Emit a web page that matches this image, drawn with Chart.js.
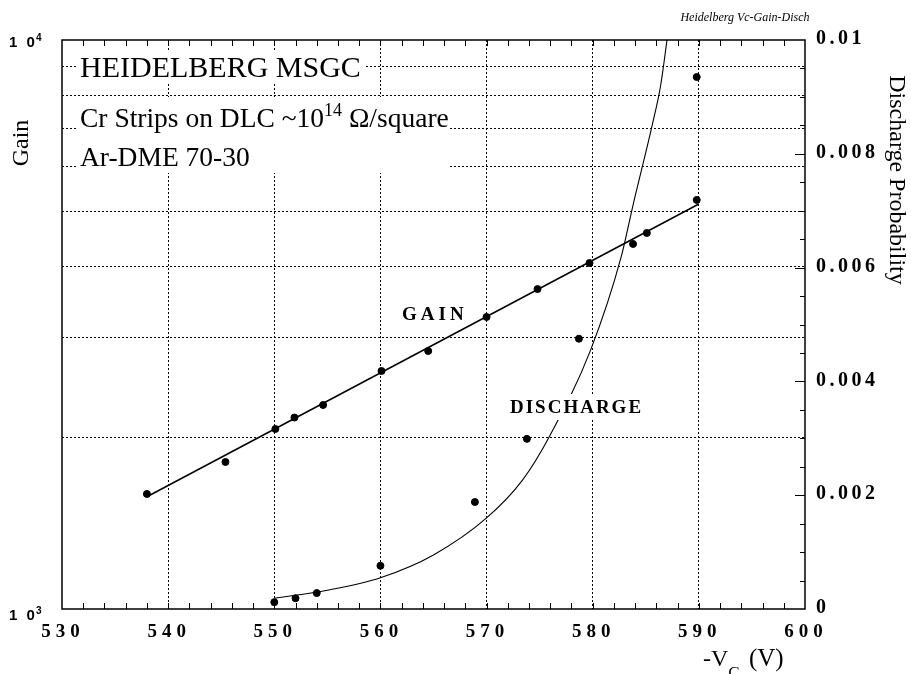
<!DOCTYPE html>
<html>
<head>
<meta charset="utf-8">
<script src="https://cdn.jsdelivr.net/npm/chart.js@4.4.1/dist/chart.umd.min.js"></script>
<style>
  html, body { margin: 0; padding: 0; background: #fff; }
  #wrap { width: 911px; height: 674px; position: relative; }
</style>
</head>
<body>
<div id="wrap"><canvas id="chart" width="911" height="674"></canvas></div>
<script>
// gain measurements (left, log axis)
const gainVoltage = [538.0, 545.4, 550.1, 551.9, 554.6, 560.1, 564.5, 570.0, 574.8, 579.7, 583.8, 585.1, 589.8];
const gainValues = [1593, 1813, 2072, 2170, 2283, 2620, 2840, 3260, 3650, 4056, 4381, 4580, 5235];
// straight fit through the gain points
const gainFitVoltage = [538, 590];
const gainFitValues = [1575, 5150];

// discharge probability (right axis)
const dischargeVoltage = [550.0, 552.0, 554.0, 560.0, 568.9, 573.8, 578.7, 589.8];
const dischargeValues = [0.00012, 0.00019, 0.00028, 0.00076, 0.00188, 0.00299, 0.00475, 0.00935];
// curve
const dischargeFitVoltage = [550, 555, 560, 565, 570, 573.4, 576, 579.8, 582.7, 583.8, 585.6, 586.4, 587.0];
const dischargeFitValues = [0.00019, 0.00033, 0.00055, 0.00095, 0.0016, 0.00227, 0.00306, 0.00455, 0.0062, 0.0071, 0.0085, 0.0092, 0.0100];

// tick labels
const xTickLabels = [530, 540, 550, 560, 570, 580, 590, 600];
const gainTickLabels = [1000, 10000];
const probTickLabels = [0, 0.002, 0.004, 0.006, 0.008, 0.01];

const toPoints = (xs, ys) => xs.map((x, i) => ({ x: x, y: ys[i] }));

function spaced(ctx, text, x, y, spacing) {
  ctx.letterSpacing = spacing + 'px';
  ctx.fillText(text, x, y);
  ctx.letterSpacing = '0px';
}

// only whole thousands get a grid line on the gain axis
function onThousand(v) {
  const k = v / 1000;
  return Math.abs(k - Math.round(k)) < 1e-6;
}

const decorations = {
  id: 'decorations',
  afterDatasetsDraw(chart) {
    const ctx = chart.ctx;
    const area = chart.chartArea;
    const xs = chart.scales.x, ys = chart.scales.y, y2 = chart.scales.y2;
    ctx.save();
    ctx.fillStyle = '#000';
    ctx.strokeStyle = '#000';

    // frame
    ctx.lineWidth = 1.5;
    ctx.strokeRect(area.left, area.top, area.right - area.left, area.bottom - area.top);

    // inward ticks
    ctx.lineWidth = 1;
    ctx.beginPath();
    xs.ticks.forEach(t => {
      if (t.value <= 530 || t.value >= 600) return;
      const px = Math.round(xs.getPixelForValue(t.value)) + 0.5;
      ctx.moveTo(px, area.bottom); ctx.lineTo(px, area.bottom - 6);
      ctx.moveTo(px, area.top); ctx.lineTo(px, area.top + 6);
    });
    y2.ticks.forEach(t => {
      if (t.value <= 0 || t.value >= 0.01) return;
      const py = Math.round(y2.getPixelForValue(t.value)) + 0.5;
      const major = Math.abs(t.value / 0.002 - Math.round(t.value / 0.002)) < 1e-6;
      ctx.moveTo(area.right, py); ctx.lineTo(area.right - (major ? 10 : 5), py);
    });
    ctx.stroke();

    // x tick labels
    ctx.font = 'bold 19px "Liberation Serif"';
    ctx.textAlign = 'center';
    ctx.textBaseline = 'middle';
    xTickLabels.forEach(v => {
      spaced(ctx, String(v), xs.getPixelForValue(v) + 1, 632, 5);
    });

    // right tick labels
    ctx.font = 'bold 20px "Liberation Serif"';
    ctx.textAlign = 'left';
    probTickLabels.forEach(v => {
      const py = y2.getPixelForValue(v);
      spaced(ctx, String(v), 816, py - 1, 3.5);
    });

    // left tick labels 1 0^n
    gainTickLabels.forEach(v => {
      const py = ys.getPixelForValue(v);
      const base = v === 10000 ? py + 7 : py + 11;
      ctx.textAlign = 'left';
      ctx.textBaseline = 'alphabetic';
      ctx.font = 'bold 15px "Liberation Sans"';
      spaced(ctx, '1 0', 9, base, 2.5);
      ctx.font = 'bold 10px "Liberation Sans"';
      ctx.fillText(String(Math.round(Math.log10(v))), 36, base - 6);
    });

    // axis titles
    ctx.font = '24px "Liberation Serif"';
    ctx.textAlign = 'center';
    ctx.textBaseline = 'middle';
    ctx.save();
    ctx.translate(22, 143);
    ctx.rotate(-Math.PI / 2);
    ctx.fillText('Gain', 0, 0);
    ctx.restore();

    ctx.save();
    ctx.translate(896, 180);
    ctx.rotate(Math.PI / 2);
    ctx.fillText('Discharge Probability', 0, 0);
    ctx.restore();

    ctx.textAlign = 'left';
    ctx.textBaseline = 'alphabetic';
    ctx.font = '24px "Liberation Serif"';
    ctx.fillText('-V', 703, 666);
    const w = ctx.measureText('-V').width;
    ctx.font = '17px "Liberation Serif"';
    ctx.fillText('C', 703 + w, 678);
    const wc = ctx.measureText('C').width;
    ctx.font = '25px "Liberation Serif"';
    ctx.fillText(' (V)', 703 + w + wc + 3, 666);

    // file note
    ctx.font = 'italic 12px "Liberation Serif"';
    ctx.textAlign = 'center';
    ctx.fillText('Heidelberg Vc-Gain-Disch', 745, 21);

    // label block
    ctx.fillStyle = '#fff';
    ctx.fillRect(78, 50, 287, 34);
    ctx.fillRect(78, 97, 370, 76);
    ctx.fillStyle = '#000';
    ctx.textAlign = 'left';
    ctx.font = '30px "Liberation Serif"';
    ctx.fillText('HEIDELBERG MSGC', 80, 77);
    ctx.font = '27.5px "Liberation Serif"';
    let x0 = 80;
    ctx.fillText('Cr Strips on DLC ~10', x0, 127);
    x0 += ctx.measureText('Cr Strips on DLC ~10').width;
    ctx.font = '18px "Liberation Serif"';
    ctx.fillText('14', x0, 116);
    x0 += ctx.measureText('14').width;
    ctx.font = '27.5px "Liberation Serif"';
    ctx.fillText(' \u03A9/square', x0, 127);
    ctx.fillText('Ar-DME 70-30', 80, 166);

    // series labels
    ctx.font = 'bold 19px "Liberation Serif"';
    ctx.textBaseline = 'middle';
    spaced(ctx, 'GAIN', 402, 315, 4);
    ctx.fillStyle = '#fff';
    ctx.fillRect(505, 394, 140, 26);
    ctx.fillStyle = '#000';
    spaced(ctx, 'DISCHARGE', 510, 408, 2);

    ctx.restore();
  }
};

const chart = new Chart(document.getElementById('chart').getContext('2d'), {
  type: 'scatter',
  data: {
    datasets: [
      {
        data: toPoints(gainFitVoltage, gainFitValues),
        yAxisID: 'y',
        showLine: true,
        borderColor: '#000',
        borderWidth: 1.5,
        pointRadius: 0
      },
      {
        data: toPoints(gainVoltage, gainValues),
        yAxisID: 'y',
        showLine: false,
        backgroundColor: '#000',
        borderColor: '#000',
        pointRadius: 3.5
      },
      {
        data: toPoints(dischargeFitVoltage, dischargeFitValues),
        yAxisID: 'y2',
        showLine: true,
        cubicInterpolationMode: 'monotone',
        borderColor: '#000',
        borderWidth: 1.1,
        pointRadius: 0
      },
      {
        data: toPoints(dischargeVoltage, dischargeValues),
        yAxisID: 'y2',
        showLine: false,
        backgroundColor: '#000',
        borderColor: '#000',
        pointRadius: 3.5
      }
    ]
  },
  options: {
    responsive: false,
    animation: false,
    events: [],
    layout: { padding: { top: 40, left: 0, right: 0, bottom: 0 } },
    plugins: { legend: { display: false }, tooltip: { enabled: false } },
    scales: {
      x: {
        type: 'linear',
        min: 530,
        max: 600,
        ticks: { stepSize: 2, display: false, autoSkip: false },
        grid: {
          drawTicks: false,
          lineWidth: 1,
          color: c => (c.tick && c.tick.value % 10 === 0 && c.tick.value > 530 && c.tick.value < 600) ? '#000' : 'rgba(0,0,0,0)'
        },
        border: { display: false, dash: [2, 2] },
        afterFit: s => { s.height = 65; }
      },
      y: {
        type: 'logarithmic',
        position: 'left',
        min: 1000,
        max: 10000,
        ticks: { display: false, autoSkip: false },
        grid: {
          drawTicks: false,
          lineWidth: 1,
          color: c => (c.tick && c.tick.value > 1000 && c.tick.value < 10000 && onThousand(c.tick.value)) ? '#000' : 'rgba(0,0,0,0)'
        },
        border: { display: false, dash: [2, 2] },
        afterFit: s => { s.width = 62; }
      },
      y2: {
        type: 'linear',
        position: 'right',
        min: 0,
        max: 0.01,
        ticks: { stepSize: 0.0005, display: false, autoSkip: false },
        grid: { display: false, drawTicks: false },
        border: { display: false },
        afterFit: s => { s.width = 106; }
      }
    }
  },
  plugins: [decorations]
});
</script>
</body>
</html>
